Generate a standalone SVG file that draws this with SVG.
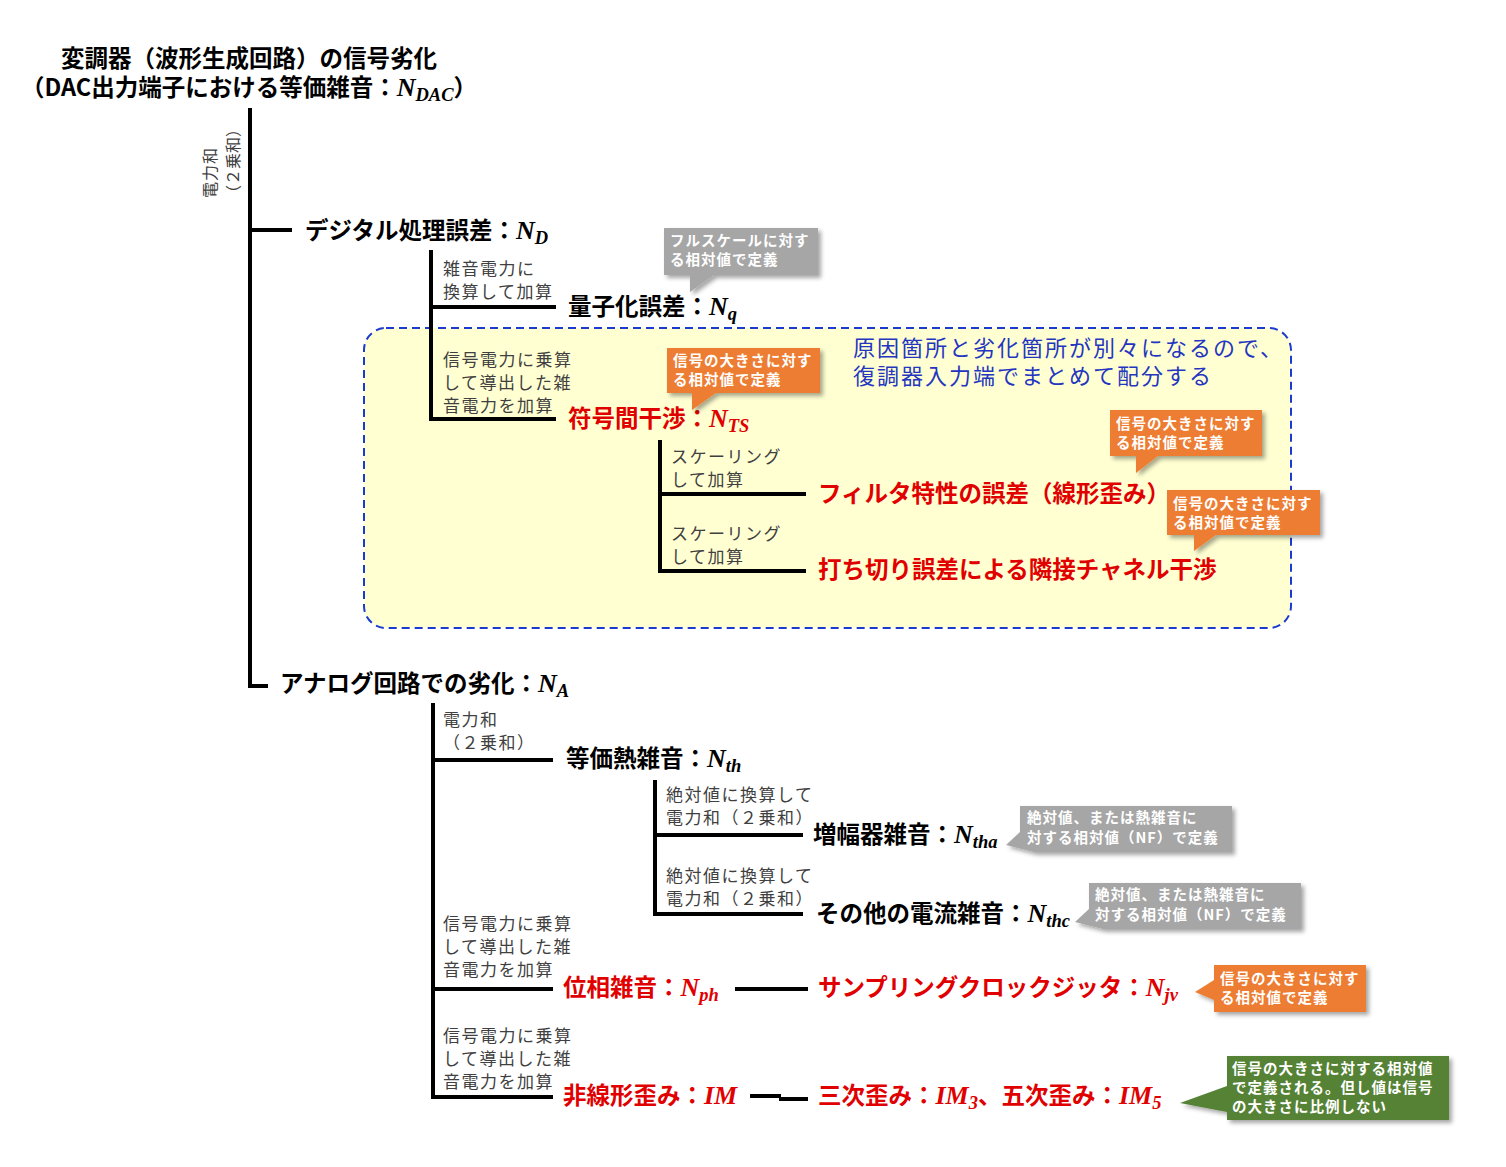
<svg xmlns="http://www.w3.org/2000/svg" width="1506" height="1167" viewBox="0 0 1506 1167">
<defs>
<filter id="sh" x="-10%" y="-10%" width="130%" height="140%"><feDropShadow dx="3" dy="3" stdDeviation="2" flood-color="#000" flood-opacity="0.35"/></filter>
<style>
.n{font-family:"Noto Sans CJK JP","Noto Sans",sans-serif;font-weight:bold;font-size:23.5px;fill:#000}
.r{fill:#E00000}
.m{font-family:"Liberation Serif","DejaVu Serif",serif;font-style:italic;font-weight:bold;font-size:26px}
.s{font-family:"Liberation Serif","DejaVu Serif",serif;font-style:italic;font-weight:bold;font-size:18.5px}
.a{font-family:"Noto Sans CJK JP","Noto Sans",sans-serif;font-size:17px;fill:#404040;letter-spacing:1.5px}
.c{font-family:"Noto Sans CJK JP","Noto Sans",sans-serif;font-weight:bold;font-size:14.5px;fill:#fff;letter-spacing:1px}
.b{font-family:"Noto Sans CJK JP","Noto Sans",sans-serif;font-size:22px;fill:#2436C0;letter-spacing:2px}
.ln{stroke:#000;stroke-width:4;fill:none}
.g{fill:#A6A6A6;filter:url(#sh)}
.o{fill:#ED7D31;filter:url(#sh)}
.gr{fill:#548235;filter:url(#sh)}
</style>
</defs>
<rect width="1506" height="1167" fill="#fff"/>

<g id="region">
<rect x="364" y="328" width="927" height="300" rx="22" fill="#FFFFD2" stroke="#1A3AD0" stroke-width="2" stroke-dasharray="8,5"/>
<text class="b" x="853" y="356">原因箇所と劣化箇所が別々になるので、</text>
<text class="b" x="853" y="384">復調器入力端でまとめて配分する</text>
</g>

<g id="connectors">
<path class="ln" d="M250,108 V688 M250,230 H292 M248,686 H268"/>
<path class="ln" d="M431,250 V421 M431,307 H556 M431,419 H556"/>
<path class="ln" d="M660,440 V573 M660,494 H806 M660,571 H806"/>
<path class="ln" d="M433,703 V1099 M433,760 H553 M433,989 H553 M433,1097 H553"/>
<path class="ln" d="M655,780 V916 M655,835 H803 M655,914 H803"/>
<path class="ln" d="M735,989 H808"/>
<path class="ln" d="M750,1096 H781 M779,1099 H808"/>
</g>

<g id="title">
<text class="n" x="249" y="67" text-anchor="middle">変調器（波形生成回路）の信号劣化</text>
<text class="n" x="249" y="96" text-anchor="middle">（DAC出力端子における等価雑音：<tspan class="m">N</tspan><tspan class="s" dy="5">DAC</tspan><tspan dy="-5">）</tspan></text>
</g>

<g id="label-power-sum">
<text class="a" style="font-size:16px;letter-spacing:1px" transform="translate(216,198) rotate(-90)">電力和</text>
<text class="a" style="font-size:16px;letter-spacing:0px" transform="translate(239,201) rotate(-90)">（２乗和）</text>
</g>

<g id="node-digital">
<text class="n" x="305" y="239">デジタル処理誤差：<tspan class="m">N</tspan><tspan class="s" dy="5">D</tspan></text>
</g>

<g id="node-quant">
<text class="a" x="443" y="275">雑音電力に</text>
<text class="a" x="443" y="298">換算して加算</text>
<text class="n" x="568" y="315">量子化誤差：<tspan class="m">N</tspan><tspan class="s" dy="5">q</tspan></text>
<path class="g" d="M664,228 H818 V275 H714 L690,292 V275 H664 Z"/>
<text class="c" x="670" y="246">フルスケールに対す</text>
<text class="c" x="670" y="265">る相対値で定義</text>
</g>

<g id="node-isi">
<text class="a" x="443" y="366">信号電力に乗算</text>
<text class="a" x="443" y="389">して導出した雑</text>
<text class="a" x="443" y="412">音電力を加算</text>
<text class="n r" x="568" y="427">符号間干渉：<tspan class="m">N</tspan><tspan class="s" dy="5">TS</tspan></text>
<path class="o" d="M667,348 H820 V393 H716 L692,410 V393 H667 Z"/>
<text class="c" x="673" y="366">信号の大きさに対す</text>
<text class="c" x="673" y="385">る相対値で定義</text>
</g>

<g id="node-filter">
<text class="a" x="671" y="463">スケーリング</text>
<text class="a" x="671" y="486">して加算</text>
<text class="n r" x="818" y="502">フィルタ特性の誤差（線形歪み）</text>
<path class="o" d="M1110,410 H1262 V456 H1158 L1136,473 V456 H1110 Z"/>
<text class="c" x="1116" y="429">信号の大きさに対す</text>
<text class="c" x="1116" y="448">る相対値で定義</text>
</g>

<g id="node-trunc">
<text class="a" x="671" y="540">スケーリング</text>
<text class="a" x="671" y="563">して加算</text>
<text class="n r" x="818" y="578">打ち切り誤差による隣接チャネル干渉</text>
<path class="o" d="M1167,490 H1320 V535 H1216 L1194,551 V535 H1167 Z"/>
<text class="c" x="1173" y="509">信号の大きさに対す</text>
<text class="c" x="1173" y="528">る相対値で定義</text>
</g>

<g id="node-analog">
<text class="n" x="280" y="692">アナログ回路での劣化：<tspan class="m">N</tspan><tspan class="s" dy="5">A</tspan></text>
</g>

<g id="node-thermal">
<text class="a" x="443" y="726">電力和</text>
<text class="a" x="443" y="749">（２乗和）</text>
<text class="n" x="566" y="767">等価熱雑音：<tspan class="m">N</tspan><tspan class="s" dy="5">th</tspan></text>
</g>

<g id="node-amp">
<text class="a" x="666" y="801">絶対値に換算して</text>
<text class="a" x="666" y="824">電力和（２乗和）</text>
<text class="n" x="813" y="843">増幅器雑音：<tspan class="m">N</tspan><tspan class="s" dy="5">tha</tspan></text>
<path class="g" d="M1020,806 H1232 V852 H1034 L1006,845 L1020,832 Z"/>
<text class="c" x="1027" y="823">絶対値、または熱雑音に</text>
<text class="c" x="1027" y="843">対する相対値（NF）で定義</text>
</g>

<g id="node-current">
<text class="a" x="666" y="882">絶対値に換算して</text>
<text class="a" x="666" y="905">電力和（２乗和）</text>
<text class="n" x="816" y="922">その他の電流雑音：<tspan class="m">N</tspan><tspan class="s" dy="5">thc</tspan></text>
<path class="g" d="M1089,883 H1301 V929 H1103 L1075,922 L1089,909 Z"/>
<text class="c" x="1095" y="900">絶対値、または熱雑音に</text>
<text class="c" x="1095" y="920">対する相対値（NF）で定義</text>
</g>

<g id="node-phase">
<text class="a" x="443" y="930">信号電力に乗算</text>
<text class="a" x="443" y="953">して導出した雑</text>
<text class="a" x="443" y="976">音電力を加算</text>
<text class="n r" x="563" y="996">位相雑音：<tspan class="m">N</tspan><tspan class="s" dy="5">ph</tspan></text>
</g>

<g id="node-jitter">
<text class="n r" x="818" y="996">サンプリングクロックジッタ：<tspan class="m">N</tspan><tspan class="s" dy="5">jv</tspan></text>
<path class="o" d="M1214,965 H1366 V1012 H1214 V1000 L1195,992 L1214,980 Z"/>
<text class="c" x="1220" y="984">信号の大きさに対す</text>
<text class="c" x="1220" y="1003">る相対値で定義</text>
</g>

<g id="node-nonlinear">
<text class="a" x="443" y="1042">信号電力に乗算</text>
<text class="a" x="443" y="1065">して導出した雑</text>
<text class="a" x="443" y="1088">音電力を加算</text>
<text class="n r" x="563" y="1104">非線形歪み：<tspan class="m">IM</tspan></text>
</g>

<g id="node-im35">
<text class="n r" x="818" y="1104">三次歪み：<tspan class="m">IM</tspan><tspan class="s" dy="5">3</tspan><tspan dy="-5">、五次歪み：</tspan><tspan class="m">IM</tspan><tspan class="s" dy="5">5</tspan></text>
<path class="gr" d="M1227,1056 H1449 V1120 H1227 V1112 L1180,1103 L1227,1086 Z"/>
<text class="c" x="1232" y="1074">信号の大きさに対する相対値</text>
<text class="c" x="1232" y="1093">で定義される。但し値は信号</text>
<text class="c" x="1232" y="1112">の大きさに比例しない</text>
</g>
</svg>
